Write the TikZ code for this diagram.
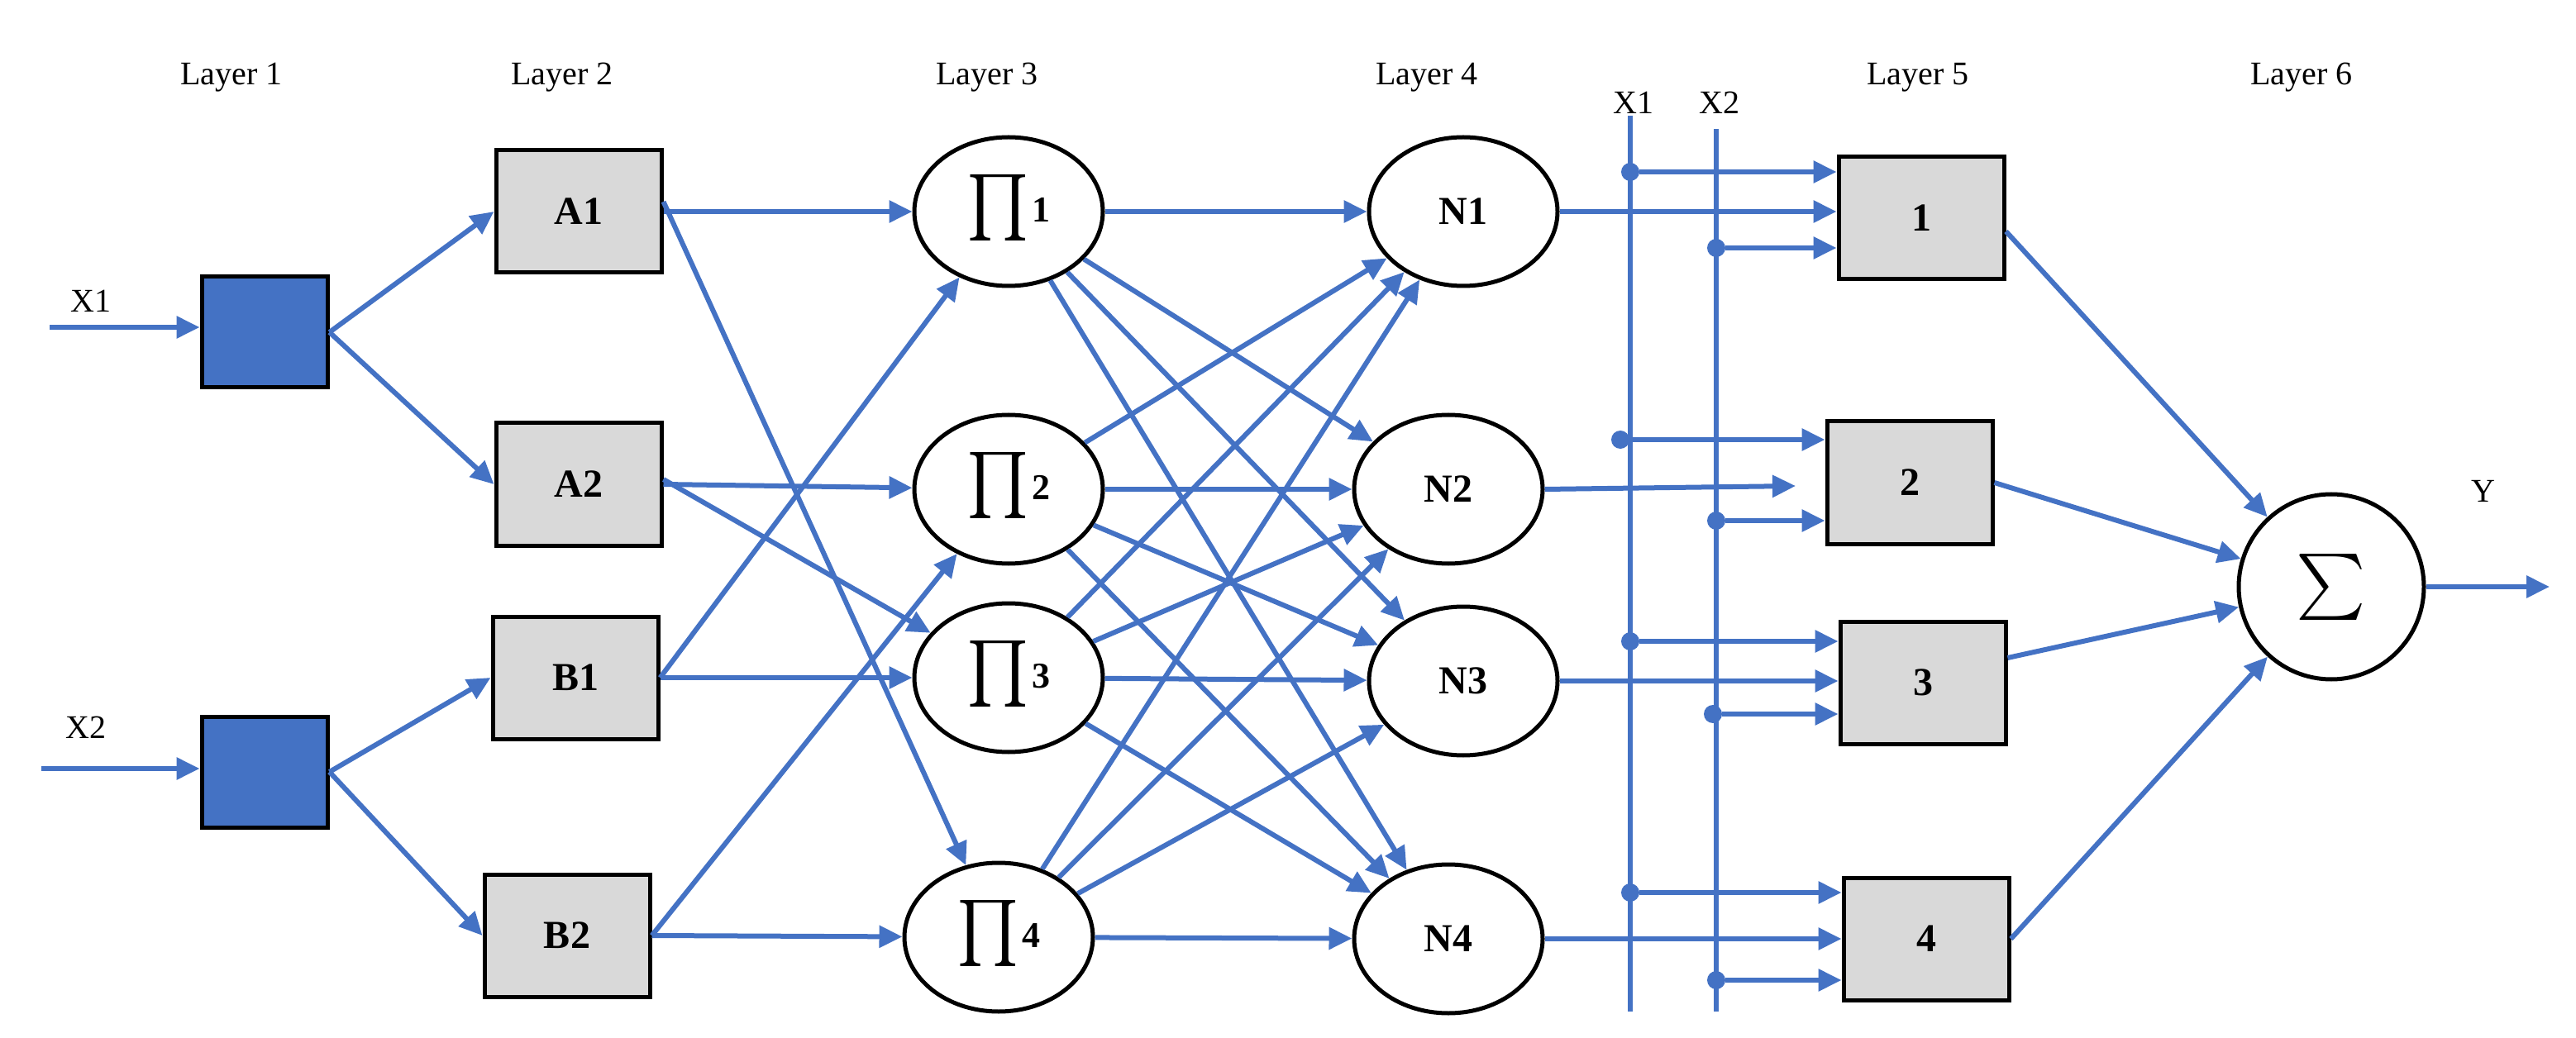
\documentclass[tikz,border=0pt]{standalone}
\usepackage{graphicx}
\usepackage{fontspec}
\setmainfont{Liberation Serif}
\usetikzlibrary{arrows.meta,shapes.geometric}
\definecolor{lb}{HTML}{4472C4}
\definecolor{gbox}{HTML}{D9D9D9}
\begin{document}
\begin{tikzpicture}[x=1pt,y=-1pt,
 con/.style={draw=lb,line width=3pt,-{Triangle[length=14pt,width=13pt]}},
 ln/.style={draw=lb,line width=3pt},
 box/.style={draw=black,line width=2.5pt,fill=gbox,minimum width=100pt,minimum height=74pt,font=\fontsize{24}{28}\selectfont\bfseries},
 blk/.style={draw=black,line width=2.5pt,fill=lb,minimum width=76pt,minimum height=67pt},
 el/.style={draw=black,line width=2.5pt,ellipse,minimum width=114pt,minimum height=90pt,inner sep=0pt,font=\fontsize{24}{28}\selectfont\bfseries},
 lab/.style={font=\fontsize{20}{24}\selectfont},
 dot/.style={circle,fill=lb,inner sep=0pt,minimum size=11pt}]
\useasboundingbox (0,0) rectangle (1558,628);
% labels
\node[lab] (l1) at (140,47) {Layer 1};
\node[lab] (l2) at (340,47) {Layer 2};
\node[lab] (l3) at (597,47) {Layer 3};
\node[lab] (l4) at (863,47) {Layer 4};
\node[lab] (l5) at (1160,47) {Layer 5};
\node[lab] (l6) at (1392,47) {Layer 6};
\node[lab] (tx1) at (988,62) {X1};
\node[lab] (tx2) at (1040,62) {X2};
\node[lab] (ix1) at (55,182) {X1};
\node[lab] (ix2) at (52,440) {X2};
\node[lab] (ly) at (1502,297) {Y};
% layer 1
\node[blk] (s1) at (160,201) {};
\node[blk] (s2) at (160,467) {};
\coordinate (a1) at (30,198);
\coordinate (a2) at (25,465);
\draw[con] (a1) -- (a1-|s1.west);
\draw[con] (a2) -- (a2-|s2.west);
% layer 2
\node[box] (A1) at (350,128) {A1};
\node[box] (A2) at (350,293) {A2};
\node[box] (B1) at (348,410) {B1};
\node[box] (B2) at (343,566) {B2};
\draw[con] (s1.east) -- (A1.west);
\draw[con] (s1.east) -- (A2.west);
\draw[con] (s2.east) -- (B1.west);
\draw[con] (s2.east) -- (B2.west);
% layer 3
\newcommand{\pnode}[1]{\raisebox{-12pt}{\scalebox{4}{$\prod$}}\hspace{2pt}\raisebox{4pt}{\fontsize{22}{24}\selectfont\bfseries #1}}
\node[el] (P1) at (610,128) {\pnode{1}};
\node[el] (P2) at (610,296) {\pnode{2}};
\node[el] (P3) at (610,410) {\pnode{3}};
\node[el] (P4) at (604,567) {\pnode{4}};
\draw[con] (A1.east) -- (P1);
\draw[con] ([yshift=6pt]A1.east) -- (P4);
\draw[con] (A2.east) -- (P2);
\draw[con] ([yshift=3pt]A2.east) -- (P3);
\draw[con] (B1.east) -- (P1);
\draw[con] (B1.east) -- (P3);
\draw[con] (B2.east) -- (P2);
\draw[con] (B2.east) -- (P4);
% layer 4
\node[el] (N1) at (885,128) {N1};
\node[el] (N2) at (876,296) {N2};
\node[el] (N3) at (885,412) {N3};
\node[el] (N4) at (876,568) {N4};
\foreach \p in {P1,P2,P3,P4}{\foreach \n in {N1,N2,N3,N4}{\draw[con] (\p) -- (\n);}}
% bus lines
\coordinate (v1t) at (986,70); \coordinate (v1b) at (986,612);
\coordinate (v2t) at (1038,78); \coordinate (v2b) at (1038,612);
\draw[ln] (v1t) -- (v1b);
\draw[ln] (v2t) -- (v2b);
% layer 5
\node[box] (R1) at (1162,132) {1};
\node[box] (R2) at (1155,292) {2};
\node[box] (R3) at (1163,413) {3};
\node[box] (R4) at (1165,568) {4};
\node[dot] (d11) at (986,104) {}; \node[dot] (d12) at (1038,150) {};
\node[dot] (d21) at (980,266) {}; \node[dot] (d22) at (1038,315) {};
\node[dot] (d31) at (986,388) {}; \node[dot] (d32) at (1036,432) {};
\node[dot] (d41) at (986,540) {}; \node[dot] (d42) at (1038,593) {};
\draw[con] (d11) -- (d11-|R1.west);
\draw[con] (d12) -- (d12-|R1.west);
\draw[con] (d21) -- (d21-|R2.west);
\draw[con] (d22) -- (d22-|R2.west);
\draw[con] (d31) -- (d31-|R3.west);
\draw[con] (d32) -- (d32-|R3.west);
\draw[con] (d41) -- (d41-|R4.west);
\draw[con] (d42) -- (d42-|R4.west);
\coordinate (e2) at (1086,294);
\draw[con] (N1.east) -- (N1.east-|R1.west);
\draw[con] (N2.east) -- (e2);
\draw[con] (N3.east) -- (N3.east-|R3.west);
\draw[con] (N4.east) -- (N4.east-|R4.west);
% layer 6
\node[draw=black,line width=2.5pt,circle,minimum size=112pt,inner sep=0pt] (S) at (1410,355) {\scalebox{4}{$\sum$}};
\draw[con] ([yshift=-8pt]R1.east) -- (S);
\draw[con] (R2.east) -- (S);
\draw[con] ([yshift=15pt]R3.east) -- (S);
\draw[con] (R4.east) -- (S);
\coordinate (yo) at (1542,355);
\draw[con] (S.east) -- (yo);
\end{tikzpicture}
\end{document}
